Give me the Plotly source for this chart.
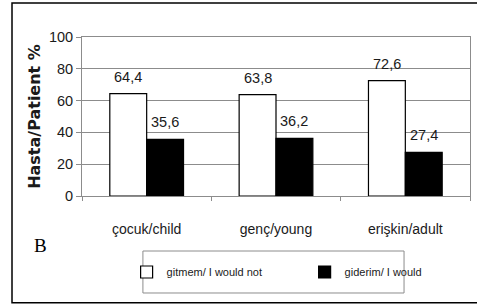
import plotly.graph_objects as go

categories = ["çocuk/child", "genç/young", "erişkin/adult"]
would_not = [64.4, 63.8, 72.6]
would = [35.6, 36.2, 27.4]
series_names = ["gitmem/ I would not", "giderim/ I would"]
y_ticks = [0, 20, 40, 60, 80, 100]

NARROW = "Liberation Sans Narrow, Arial Narrow, Liberation Sans, sans-serif"
GRID = "#8c8c8c"
TXT = "#1a1a1a"
bargap = 0.43

fig = go.Figure()
fig.add_trace(go.Bar(x=categories, y=would_not, name=series_names[0],
                     marker=dict(color="white", line=dict(color="black", width=1.2))))
fig.add_trace(go.Bar(x=categories, y=would, name=series_names[1],
                     marker=dict(color="black", line=dict(color="black", width=1.2))))

# value labels above bars, positioned via data coordinates
half = (1 - bargap) / 4
for i, (a, b) in enumerate(zip(would_not, would)):
    for xv, yv in ((i - half, a), (i + half, b)):
        fig.add_annotation(x=xv, y=yv, xref="x", yref="y",
                           text=f"{yv:.1f}".replace(".", ","), showarrow=False,
                           yanchor="middle", yshift=17,
                           font=dict(family=NARROW, size=14.5, color=TXT))

# panel letter
fig.add_annotation(x=-0.108, y=-0.314, xref="paper", yref="paper", text="B",
                   xanchor="center", yanchor="middle", showarrow=False,
                   font=dict(family="Liberation Serif, Times New Roman, serif",
                             size=19, color="black"))

# outer frame
fig.add_shape(type="rect", xref="paper", yref="paper",
              x0=-0.1804, x1=1.03, y0=-0.672, y1=1.214,
              line=dict(color="black", width=1.5), fillcolor="rgba(0,0,0,0)", layer="below")
# legend frame
fig.add_shape(type="rect", xref="paper", yref="paper",
              x0=0.157, x1=0.830, y0=-0.610, y1=-0.346,
              line=dict(color=GRID, width=1), fillcolor="white", layer="below")

fig.update_layout(
    width=477, height=305,
    margin=dict(l=82, r=7, t=37, b=109, autoexpand=False),
    paper_bgcolor="white", plot_bgcolor="white",
    barmode="group", bargap=bargap, bargroupgap=0,
    font=dict(family=NARROW, size=14, color=TXT),
    showlegend=True,
    legend=dict(orientation="h", x=0.115, xanchor="left", y=-0.478, yanchor="middle",
                borderwidth=0, bgcolor="rgba(0,0,0,0)",
                font=dict(family=NARROW, size=11, color=TXT),
                itemwidth=30, tracegroupgap=0,
                entrywidth=133, entrywidthmode="pixels"),
    xaxis=dict(showline=True, linecolor=GRID, linewidth=1, mirror=True,
               ticks="outside", tickson="boundaries", ticklen=4, tickcolor=GRID,
               ticklabelstandoff=20, tickfont=dict(family=NARROW, size=14, color=TXT),
               showgrid=False),
    yaxis=dict(range=[0, 100], tickvals=y_ticks, showgrid=True, gridcolor=GRID, gridwidth=1,
               showline=True, linecolor=GRID, linewidth=1, mirror=True,
               ticks="outside", ticklen=5, tickcolor=GRID,
               tickfont=dict(family=NARROW, size=14.5, color=TXT),
               zeroline=False,
               title=dict(text="Hasta/Patient %", standoff=4,
                          font=dict(family="DejaVu Sans, Arial, sans-serif", size=16,
                                    color=TXT, weight="bold"))),
)

fig.write_html("out.html", post_script="document.body.style.margin='0';",
               config={"displayModeBar": False})
